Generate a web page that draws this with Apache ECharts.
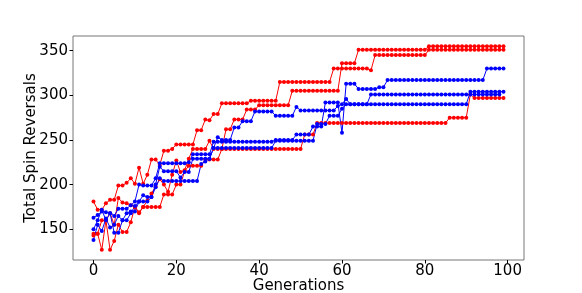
<!DOCTYPE html>
<html><head><meta charset="utf-8">
<script src="https://cdn.jsdelivr.net/npm/echarts@6/dist/echarts.min.js"></script>
<style>html,body{margin:0;padding:0;background:#fff}#c{width:582px;height:293px}</style>
</head><body><div id="c"></div>
<script>
function rep(v,n){var a=[];for(var i=0;i<n;i++)a.push(v);return a;}
var generations=[];for(var g=0;g<100;g++)generations.push(g);
var xTicks=[0,20,40,60,80,100];
var yTicks=[150,200,250,300,350];

var red1=[181,172,172,179,183,183,199,199,202,207,201,219,201,211,228,228,222,238,238,240,245,245,245,245,245,261,261,273,272,279,279]
 .concat(rep(291,7),rep(294,7),rep(315,13),rep(330,9),[328],rep(345,13),rep(351,19));
var red2=[145,145,127,160,127,137,155,147,147,158,175,168,175,182,190,198,206,200,192,211,227,214,216,229,240,240,240,240,249,240]
 .concat(rep(240,2),rep(262,2),rep(273,3),rep(284,3),rep(289,8),rep(305,12),rep(336,4),rep(351,17),rep(355,19));
var red3=[143,145,160,160,168,155,185,180,179,177,175,169,175,175,175,175,175,189,189,189,200,200,215,221,221,221,221,228,228,228,228]
 .concat(rep(240,20),rep(256,3),rep(269,32),rep(275,5),[301],rep(297,8));
var blue1=[163,166,170,169,168,165,173,173,173,177,181,200,199,199,199,207,224,224,224,224,224,224,224,225,234,234,234,234,234,248]
 .concat(rep(248,14),rep(250,5),rep(256,4),rep(265,3),rep(292,4),[258],rep(313,3),rep(307,5),rep(309,2),rep(317,24),rep(330,5));
var blue2=[150,160,172,160,168,146,146,160,168,170,170,181,188,186,186,200,220,215,215,215,215,208,214,214,229,229,229,229,229,241]
 .concat([253],rep(250,3),rep(264,2),rep(271,3),rep(282,5),rep(277,5),[287],rep(283,9),[288],[290,296,290,290,290,290,290],rep(301,32));
var blue3=[138,155,148,162,152,155,165,160,160,168,176,181,181,181,186,197,207,204,204,204,204,204,204,204,204,204,223,226,229,241]
 .concat(rep(241,14),rep(249,10),rep(268,3),rep(277,3),[285],rep(290,30),rep(304,9));

function pairs(arr){return arr.map(function(v,i){return [generations[i],v];});}
function ser(arr,color){return {type:'line',data:pairs(arr),symbol:'circle',symbolSize:4,showSymbol:true,
  lineStyle:{color:color,width:1},itemStyle:{color:color},animation:false};}

var chart=echarts.init(document.getElementById('c'),null,{renderer:'canvas'});
chart.setOption({
  animation:false,
  grid:{left:73,right:58,top:36,bottom:33,containLabel:false,outerBoundsMode:'none',show:true,borderColor:'#777',borderWidth:1},
  xAxis:{type:'value',min:-4.95,max:103.95,
    name:'Generations',nameLocation:'middle',nameGap:19,nameMoveOverlap:false,
    nameTextStyle:{fontSize:15,color:'#000',fontFamily:'DejaVu Sans'},
    axisLine:{show:false,onZero:false},splitLine:{show:false},
    axisTick:{show:true,inside:false,length:3.5,lineStyle:{color:'#000'},customValues:xTicks},
    axisLabel:{fontSize:15,color:'#000',fontFamily:'DejaVu Sans',margin:4,customValues:xTicks}},
  yAxis:{type:'value',min:115.6,max:366.4,
    name:'Total Spin Reversals',nameLocation:'middle',nameGap:34,nameMoveOverlap:false,
    nameTextStyle:{fontSize:15,color:'#000',fontFamily:'DejaVu Sans'},
    axisLine:{show:false,onZero:false},splitLine:{show:false},
    axisTick:{show:true,inside:false,length:3.5,lineStyle:{color:'#000'},customValues:yTicks},
    axisLabel:{fontSize:15,color:'#000',fontFamily:'DejaVu Sans',margin:5,customValues:yTicks}},
  series:[ser(red1,'#ff0000'),ser(red2,'#ff0000'),ser(red3,'#ff0000'),ser(blue1,'#0000ff'),ser(blue2,'#0000ff'),ser(blue3,'#0000ff')]
});
</script></body></html>
